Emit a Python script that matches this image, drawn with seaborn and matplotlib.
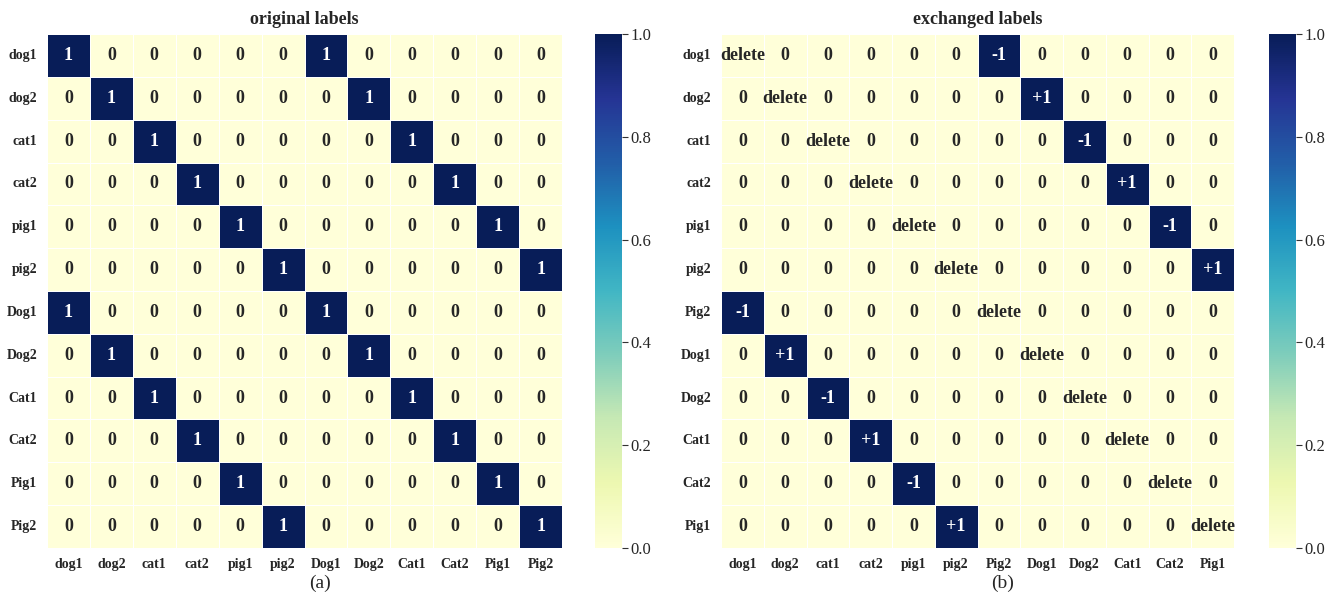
import numpy as np
import pandas as pd
import matplotlib
matplotlib.use("Agg")
import matplotlib.pyplot as plt
import seaborn as sns

sns.set_theme(style="white")
plt.rcParams['font.family'] = ['Liberation Serif', 'DejaVu Serif']

# ---------------- data ----------------
orig_labels = ["dog1", "dog2", "cat1", "cat2", "pig1", "pig2",
               "Dog1", "Dog2", "Cat1", "Cat2", "Pig1", "Pig2"]

original_values = [
    [1, 0, 0, 0, 0, 0, 1, 0, 0, 0, 0, 0],
    [0, 1, 0, 0, 0, 0, 0, 1, 0, 0, 0, 0],
    [0, 0, 1, 0, 0, 0, 0, 0, 1, 0, 0, 0],
    [0, 0, 0, 1, 0, 0, 0, 0, 0, 1, 0, 0],
    [0, 0, 0, 0, 1, 0, 0, 0, 0, 0, 1, 0],
    [0, 0, 0, 0, 0, 1, 0, 0, 0, 0, 0, 1],
    [1, 0, 0, 0, 0, 0, 1, 0, 0, 0, 0, 0],
    [0, 1, 0, 0, 0, 0, 0, 1, 0, 0, 0, 0],
    [0, 0, 1, 0, 0, 0, 0, 0, 1, 0, 0, 0],
    [0, 0, 0, 1, 0, 0, 0, 0, 0, 1, 0, 0],
    [0, 0, 0, 0, 1, 0, 0, 0, 0, 0, 1, 0],
    [0, 0, 0, 0, 0, 1, 0, 0, 0, 0, 0, 1],
]

exch_rows = ["dog1", "dog2", "cat1", "cat2", "pig1", "pig2",
             "Pig2", "Dog1", "Dog2", "Cat1", "Cat2", "Pig1"]
exch_cols = ["dog1", "dog2", "cat1", "cat2", "pig1", "pig2",
             "Pig2", "Dog1", "Dog2", "Cat1", "Cat2", "Pig1"]

D = "delete"
exchanged_annot = [
    [D,    "0",  "0",  "0",  "0",  "0",  "-1", "0",  "0",  "0",  "0",  "0"],
    ["0",  D,    "0",  "0",  "0",  "0",  "0",  "+1", "0",  "0",  "0",  "0"],
    ["0",  "0",  D,    "0",  "0",  "0",  "0",  "0",  "-1", "0",  "0",  "0"],
    ["0",  "0",  "0",  D,    "0",  "0",  "0",  "0",  "0",  "+1", "0",  "0"],
    ["0",  "0",  "0",  "0",  D,    "0",  "0",  "0",  "0",  "0",  "-1", "0"],
    ["0",  "0",  "0",  "0",  "0",  D,    "0",  "0",  "0",  "0",  "0",  "+1"],
    ["-1", "0",  "0",  "0",  "0",  "0",  D,    "0",  "0",  "0",  "0",  "0"],
    ["0",  "+1", "0",  "0",  "0",  "0",  "0",  D,    "0",  "0",  "0",  "0"],
    ["0",  "0",  "-1", "0",  "0",  "0",  "0",  "0",  D,    "0",  "0",  "0"],
    ["0",  "0",  "0",  "+1", "0",  "0",  "0",  "0",  "0",  D,    "0",  "0"],
    ["0",  "0",  "0",  "0",  "-1", "0",  "0",  "0",  "0",  "0",  D,    "0"],
    ["0",  "0",  "0",  "0",  "0",  "+1", "0",  "0",  "0",  "0",  "0",  D],
]
# colour intensity: exchanged cells (+1 / -1) are dark, everything else light
exchanged_values = [[1 if s in ("+1", "-1") else 0 for s in row] for row in exchanged_annot]

titles = ["original labels", "exchanged labels"]
captions = ["(a)", "(b)"]

# ---------------- figure ----------------
W, H = 1338, 608
fig = plt.figure(figsize=(W / 100, H / 100), dpi=100)

def frac(x0, x1, y0, y1):
    return [x0 / W, 1 - y1 / H, (x1 - x0) / W, (y1 - y0) / H]

ax1 = fig.add_axes(frac(47, 562, 34, 548))
cax1 = fig.add_axes(frac(595, 622, 34, 548))
ax2 = fig.add_axes(frac(721, 1234, 34, 548))
cax2 = fig.add_axes(frac(1269, 1296, 34, 548))

df1 = pd.DataFrame(original_values, index=orig_labels, columns=orig_labels)
df2 = pd.DataFrame(exchanged_values, index=exch_rows, columns=exch_cols)

annot_kws = dict(fontsize=13, fontweight="bold")
sns.heatmap(df1, ax=ax1, cbar_ax=cax1, cmap="YlGnBu", vmin=0, vmax=1,
            annot=True, fmt="d", annot_kws=annot_kws,
            linewidths=0.6, linecolor="white")
sns.heatmap(df2, ax=ax2, cbar_ax=cax2, cmap="YlGnBu", vmin=0, vmax=1,
            annot=np.array(exchanged_annot), fmt="", annot_kws=annot_kws,
            linewidths=0.6, linecolor="white")

for ax, title in zip((ax1, ax2), titles):
    ax.set_title(title, fontsize=13, fontweight="bold", pad=7)
    ax.tick_params(length=0, labelsize=10, pad=7)
    ax.set_xticklabels(ax.get_xticklabels(), rotation=0, fontweight="bold")
    ax.set_yticklabels(ax.get_yticklabels(), rotation=0, fontweight="bold")
    ax.set_xlabel("")
    ax.set_ylabel("")

for cax in (cax1, cax2):
    cax.tick_params(length=4, width=0.8, labelsize=12, color="#333333", pad=2)
    cax.yaxis.set_ticks([0.0, 0.2, 0.4, 0.6, 0.8, 1.0])
    cax.set_yticklabels(["0.0", "0.2", "0.4", "0.6", "0.8", "1.0"])
    for s in cax.spines.values():
        s.set_visible(False)

fig.text(320 / W, 1 - 583 / H, captions[0], ha="center", va="center", fontsize=14)
fig.text(1003 / W, 1 - 583 / H, captions[1], ha="center", va="center", fontsize=14)

fig.savefig("out.png", dpi=100)
